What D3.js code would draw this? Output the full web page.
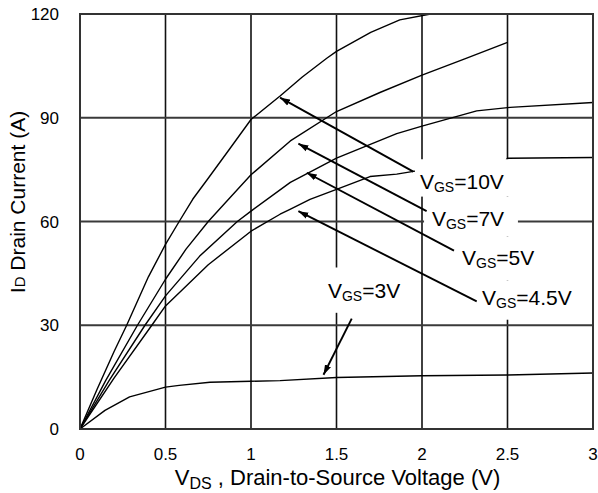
<!DOCTYPE html>
<html>
<head>
<meta charset="utf-8">
<script src="https://cdnjs.cloudflare.com/ajax/libs/d3/7.8.5/d3.min.js"></script>
<style>
  body { margin: 0; background: #fff; }
  svg { display: block; font-family: "Liberation Sans", Arial, sans-serif; }
</style>
</head>
<body>
<svg id="chart"></svg>
<script>
const W = 598, H = 493;
const margin = { top: 14, right: 5, bottom: 64, left: 80 };

// axis ticks
const xTicks = [0, 0.5, 1, 1.5, 2, 2.5, 3];
const yTicks = [0, 30, 60, 90, 120];

// curves, [V_DS, I_D]
const vgs10 = [[0, 0], [0.1, 11.5], [0.2, 22.5], [0.273, 30], [0.4, 44], [0.5, 53.4], [0.58, 60], [0.66, 66.5],
  [0.75, 72.5], [0.877, 81.1], [1.0, 89.5], [1.17, 96.3], [1.3, 101.8], [1.443, 107.2], [1.5, 109.2],
  [1.7, 114.7], [1.87, 118.3], [2.05, 120]];
const vgs7 = [[0, 0], [0.15, 14], [0.336, 30], [0.5, 43.3], [0.62, 52], [0.75, 60], [0.87, 66.5], [1.0, 73.5],
  [1.23, 83.3], [1.5, 91.8], [1.754, 97.3], [2.0, 102.3], [2.25, 107], [2.5, 111.8]];
const vgs5 = [[0, 0], [0.17, 14], [0.38, 30], [0.5, 38.5], [0.7, 50], [0.92, 60], [1.0, 63], [1.23, 71.3],
  [1.5, 78.3], [1.852, 85.4], [2.0, 87.6], [2.32, 92], [2.515, 93], [3.0, 94.4]];
const vgs45 = [[0, 0], [0.2, 14.8], [0.42, 30], [0.5, 35.6], [0.75, 47.5], [1.0, 57.2], [1.17, 62.1], [1.228, 63.5],
  [1.345, 66.4], [1.5, 69.3], [1.696, 73], [1.852, 73.7], [1.95, 74.5], [2.2, 76.5], [2.49, 77.5], [2.5, 78.3], [3.0, 78.5]];
const vgs3 = [[0, 0], [0.146, 5.4], [0.29, 9.3], [0.5, 12.1], [0.58, 12.6], [0.76, 13.5], [1.0, 13.8],
  [1.17, 14.0], [1.5, 14.9], [2.0, 15.4], [2.5, 15.6], [3.0, 16.2]];

const curves = [vgs10, vgs7, vgs5, vgs45, vgs3];

// label names / values
const labelValues = ["10V", "7V", "5V", "4.5V", "3V"];
// annotation placement (in V_DS / I_D units): text anchor, white box, arrow start and tip
const labelText = [[1.988, 69.3], [2.058, 58.8], [2.234, 47.5], [2.351, 35.9], [1.45, 38.0]];
const labelBox = [[1.959, 2.509, 67.2, 78.0], [2.012, 2.561, 55.7, 67.2], [2.199, 2.696, 42.9, 55.7],
  [2.316, 2.918, 31.6, 42.9], [1.415, 1.906, 33.6, 46.7]];
const arrowFrom = [[1.949, 74.4], [2.027, 63.0], [2.187, 51.6], [2.32, 36.9], [1.589, 31.9]];
const arrowTo = [[1.17, 95.8], [1.277, 82.5], [1.326, 74.1], [1.277, 63.0], [1.424, 15.7]];

const svg = d3.select("#chart").attr("width", W).attr("height", H);
const w = W - margin.left - margin.right;
const h = H - margin.top - margin.bottom;

const x = d3.scaleLinear().domain([0, 3]).range([margin.left, margin.left + w]);
const y = d3.scaleLinear().domain([0, 120]).range([margin.top + h, margin.top]);

svg.append("defs").append("marker")
    .attr("id", "arrow")
    .attr("markerUnits", "userSpaceOnUse")
    .attr("markerWidth", 11)
    .attr("markerHeight", 8)
    .attr("refX", 10)
    .attr("refY", 4)
    .attr("orient", "auto")
    .append("path")
    .attr("d", "M0,0.7 L10,4 L0,7.3 Z")
    .attr("fill", "#000");

// grid
svg.append("g")
    .selectAll("line")
    .data(xTicks.slice(1, -1))
    .join("line")
    .attr("x1", d => x(d)).attr("x2", d => x(d))
    .attr("y1", y(0)).attr("y2", y(120))
    .attr("stroke", "#111")
    .attr("stroke-width", 1.6);

svg.append("g")
    .selectAll("line")
    .data(yTicks.slice(1, -1))
    .join("line")
    .attr("x1", x(0)).attr("x2", x(3))
    .attr("y1", d => y(d)).attr("y2", d => y(d))
    .attr("stroke", "#3a3a3a")
    .attr("stroke-width", 2);

// curves
const line = d3.line().x(d => x(d[0])).y(d => y(d[1]));

svg.append("g")
    .selectAll("path")
    .data(curves)
    .join("path")
    .attr("d", line)
    .attr("fill", "none")
    .attr("stroke", "#000")
    .attr("stroke-width", 1.4)
    .attr("stroke-linejoin", "round");

// white boxes behind labels
svg.append("g")
    .selectAll("rect")
    .data(labelBox)
    .join("rect")
    .attr("x", d => x(d[0]))
    .attr("width", d => x(d[1]) - x(d[0]))
    .attr("y", d => y(d[3]))
    .attr("height", d => y(d[2]) - y(d[3]))
    .attr("fill", "#fff");

// labels
const labels = svg.append("g")
    .selectAll("text")
    .data(labelValues)
    .join("text")
    .attr("x", (d, i) => x(labelText[i][0]))
    .attr("y", (d, i) => y(labelText[i][1]))
    .attr("font-size", 21)
    .attr("fill", "#000");

labels.append("tspan").text("V");
labels.append("tspan").attr("font-size", 14).attr("dy", 3).text("GS");
labels.append("tspan").attr("dy", -3).text(d => "=" + d);

// arrows
svg.append("g")
    .selectAll("line")
    .data(arrowFrom)
    .join("line")
    .attr("x1", d => x(d[0])).attr("y1", d => y(d[1]))
    .attr("x2", (d, i) => x(arrowTo[i][0])).attr("y2", (d, i) => y(arrowTo[i][1]))
    .attr("stroke", "#000")
    .attr("stroke-width", 1.9)
    .attr("marker-end", "url(#arrow)");

// frame
svg.append("rect")
    .attr("x", x(0)).attr("y", y(120))
    .attr("width", x(3) - x(0)).attr("height", y(0) - y(120))
    .attr("fill", "none")
    .attr("stroke", "#333")
    .attr("stroke-width", 2);

// tick labels
svg.append("g")
    .selectAll("text")
    .data(xTicks)
    .join("text")
    .attr("x", d => x(d))
    .attr("y", y(0) + 31)
    .attr("text-anchor", "middle")
    .attr("font-size", 17)
    .text(d => d);

svg.append("g")
    .selectAll("text")
    .data(yTicks)
    .join("text")
    .attr("x", x(0) - 21)
    .attr("y", d => y(d))
    .attr("dy", "0.36em")
    .attr("text-anchor", "end")
    .attr("font-size", 17)
    .text(d => d);

// axis titles
const xt = svg.append("text")
    .attr("x", (x(0) + x(3)) / 2 + 1)
    .attr("y", 485)
    .attr("text-anchor", "middle")
    .attr("font-size", 22);
xt.append("tspan").text("V");
xt.append("tspan").attr("font-size", 16).attr("dy", 4).text("DS");
xt.append("tspan").attr("dy", -4).text(" , Drain-to-Source Voltage (V)");

const yt = svg.append("text")
    .attr("transform", "translate(25,202) rotate(-90)")
    .attr("text-anchor", "middle")
    .attr("font-size", 21);
yt.append("tspan").text("I");
yt.append("tspan").attr("font-size", 15).text("D");
yt.append("tspan").text(" Drain Current (A)");
</script>
</body>
</html>
